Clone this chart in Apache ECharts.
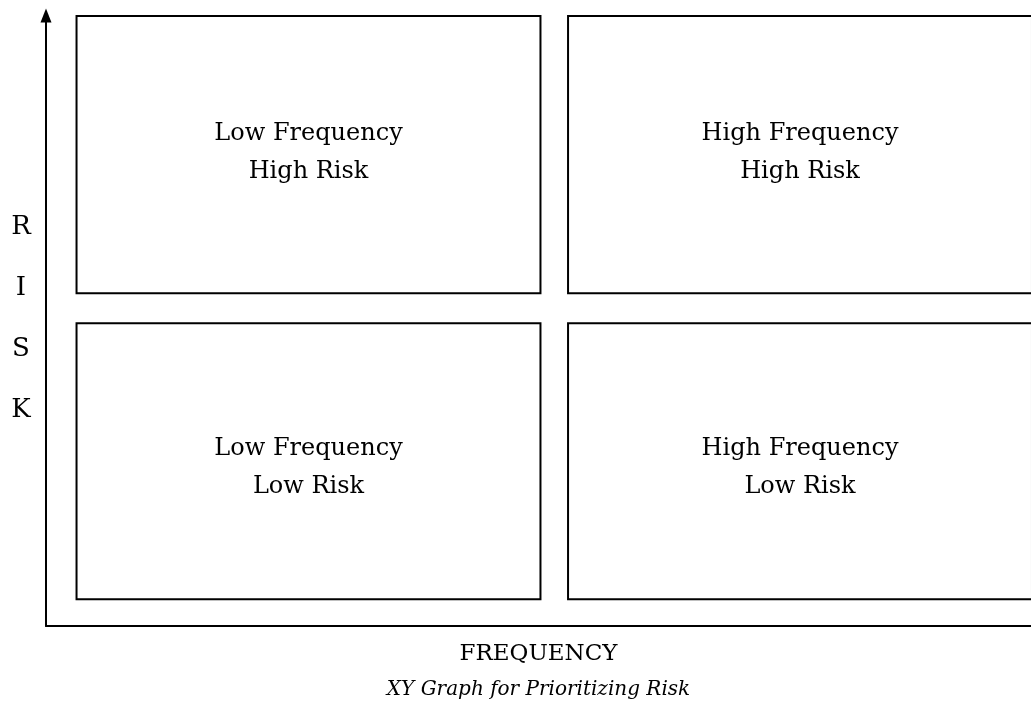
<!DOCTYPE html>
<html>
<head>
<meta charset="utf-8">
<script src="https://cdn.jsdelivr.net/npm/echarts@6/dist/echarts.min.js"></script>
<style>
html,body{margin:0;padding:0;background:#fff;}
#chart{width:1031px;height:709px;}
</style>
</head>
<body>
<div id="chart"></div>
<script>
// Quadrant data (frequency axis 0..100, risk axis 0..100)
const quadrantNames = ['Low Frequency\nHigh Risk', 'High Frequency\nHigh Risk', 'Low Frequency\nLow Risk', 'High Frequency\nLow Risk'];
const freqStart = [3.1, 53.0, 3.1, 53.0];
const freqEnd = [50.2, 100.1, 50.2, 100.1];
const riskStart = [54.5, 54.5, 4.4, 4.4];
const riskEnd = [99.9, 99.9, 49.6, 49.6];
const labelRisk = [77.5, 77.5, 26.0, 26.0];
const xAxisTitle = 'FREQUENCY';
const captionText = 'XY Graph for Prioritizing Risk';
const yAxisTitle = 'R\nI\nS\nK';

const serif = '"DejaVu Serif", "Liberation Serif", serif';

const data = quadrantNames.map((n, i) => [freqStart[i], freqEnd[i], riskStart[i], riskEnd[i], labelRisk[i], n]);

const chart = echarts.init(document.getElementById('chart'), null, {renderer: 'canvas'});
chart.setOption({
  animation: false,
  backgroundColor: '#ffffff',
  grid: {left: 46, right: -1, top: 15.5, bottom: 83, containLabel: false},
  xAxis: {
    type: 'value', min: 0, max: 100,
    axisLine: {show: true, onZero: false, lineStyle: {color: '#000', width: 2}},
    axisTick: {show: false}, axisLabel: {show: false}, splitLine: {show: false},
    name: '{a|' + xAxisTitle + '}\n{b|' + captionText + '}',
    nameLocation: 'middle', nameGap: 11,
    nameTextStyle: {
      rich: {
        a: {fontFamily: serif, fontSize: 23, lineHeight: 35, color: '#000'},
        b: {fontFamily: serif, fontSize: 20, fontStyle: 'italic', lineHeight: 35, color: '#000'}
      }
    }
  },
  yAxis: {
    type: 'value', min: 0, max: 100,
    axisLine: {show: true, onZero: false, lineStyle: {color: '#000', width: 2}, symbol: ['none', 'triangle'], symbolSize: [11, 14]},
    axisTick: {show: false}, axisLabel: {show: false}, splitLine: {show: false}
  },
  graphic: [{
    type: 'text', left: 8, top: 197,
    style: {text: yAxisTitle, font: '26px ' + serif, lineHeight: 61, textAlign: 'center', fill: '#000', width: 26, align: 'center'}
  }],
  series: [{
    type: 'custom',
    clip: false,
    data: data,
    renderItem: function (params, api) {
      const p0 = api.coord([api.value(0), api.value(3)]);
      const p1 = api.coord([api.value(1), api.value(2)]);
      const lc = api.coord([(api.value(0) + api.value(1)) / 2, api.value(4)]);
      const name = data[params.dataIndex][5];
      return {
        type: 'group',
        children: [{
          type: 'rect',
          shape: {x: p0[0], y: p0[1], width: p1[0] - p0[0], height: p1[1] - p0[1]},
          style: {fill: 'none', stroke: '#000', lineWidth: 2}
        }, {
          type: 'text',
          x: lc[0], y: lc[1],
          style: {text: name, font: '24px ' + serif, lineHeight: 38, align: 'center', verticalAlign: 'middle', fill: '#000'}
        }]
      };
    }
  }]
});
</script>
</body>
</html>
